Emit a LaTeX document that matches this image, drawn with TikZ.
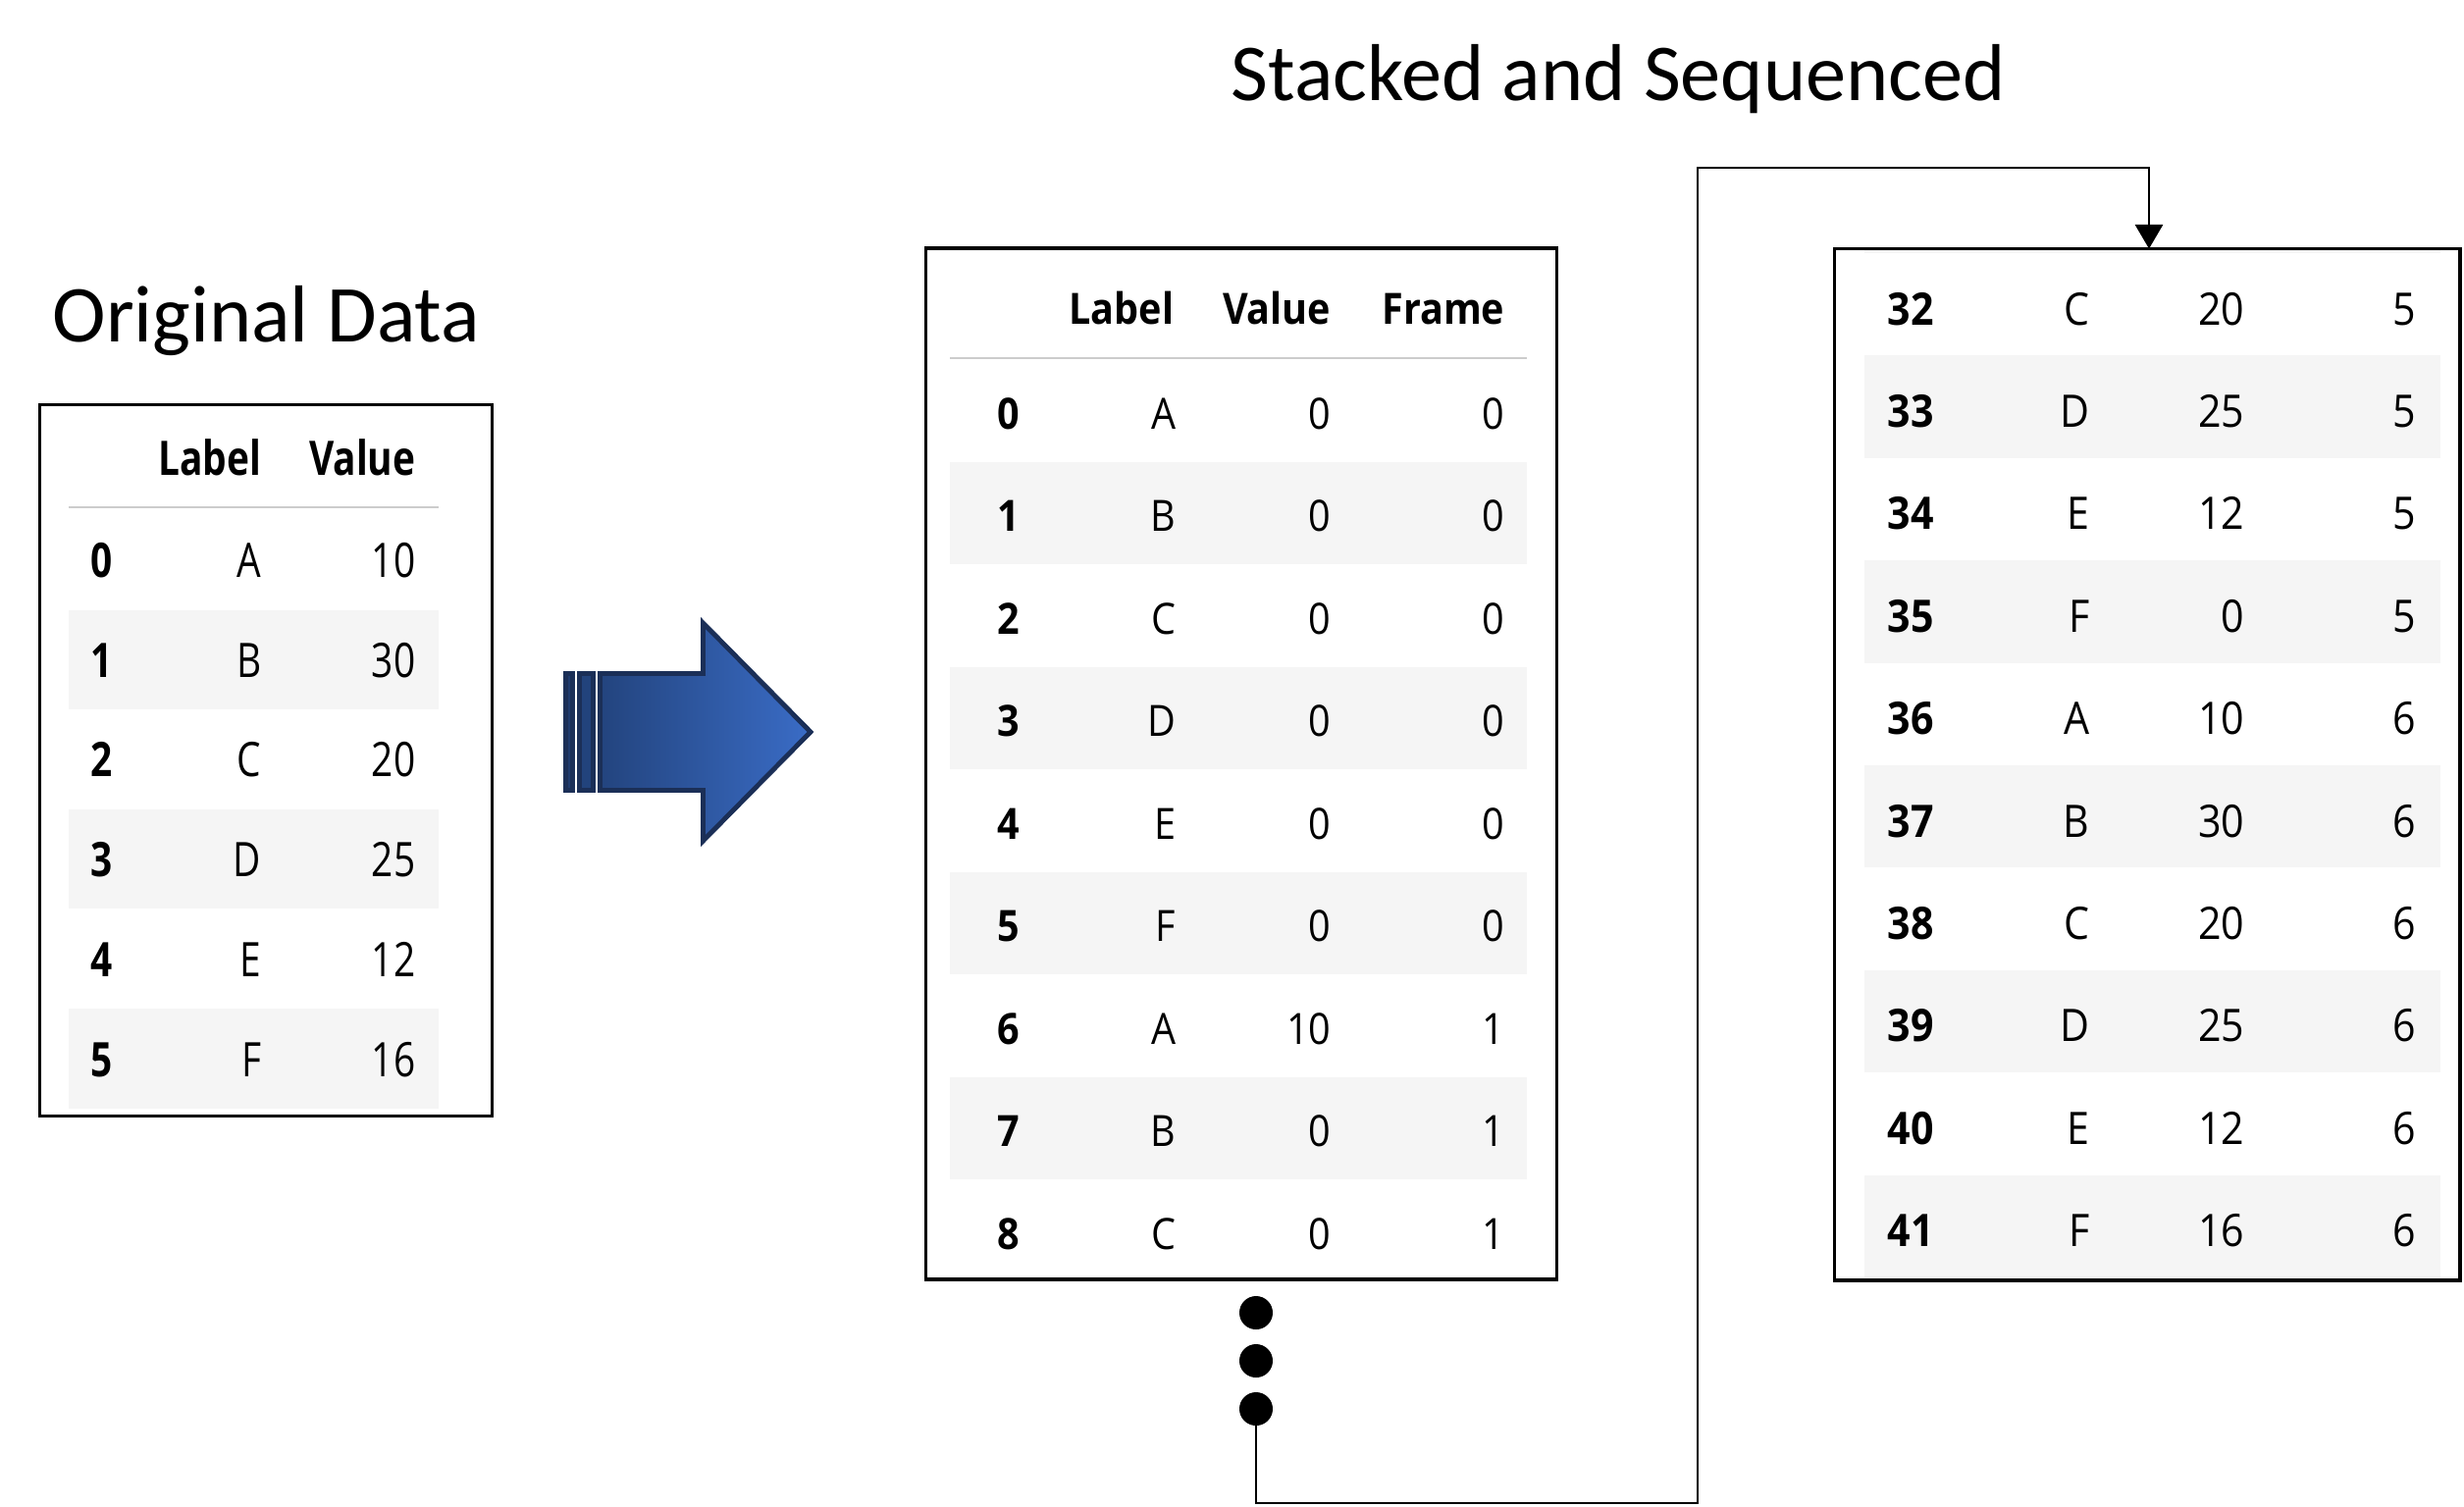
\documentclass[tikz,border=0pt]{standalone}
\usepackage{fontspec}
\setmainfont{Carlito}
\newfontfamily\tabfontL[FakeStretch=0.8]{Open Sans}
\newfontfamily\tabfontM[FakeStretch=0.9]{Open Sans}
\usetikzlibrary{arrows.meta}
\definecolor{rowshade}{HTML}{F5F5F5}
\definecolor{hdrline}{HTML}{CCCCCC}
\definecolor{navyedge}{HTML}{1B2F57}
\definecolor{arrowL}{HTML}{23447E}
\definecolor{arrowR}{HTML}{3A6CC6}
\definecolor{barA}{HTML}{1F3B6E}
\definecolor{barB}{HTML}{22437C}
\tikzset{
  titletext/.style={inner sep=0pt, anchor=base west, font=\fontsize{23.4}{28}\selectfont},
  lcell/.style={inner sep=0pt, font=\tabfontL\fontsize{13.8}{16}\selectfont},
  mcell/.style={inner sep=0pt, font=\tabfontM\fontsize{12.5}{15}\selectfont},
  rcell/.style={inner sep=0pt, font=\tabfontM\fontsize{13}{15}\selectfont},
  tablebox/.style={draw=black, line width=1pt, fill=none},
  shaderow/.style={fill=rowshade, draw=none},
  headrule/.style={draw=hdrline, line width=0.65pt},
  connector/.style={draw=black, line width=0.75pt},
  dotmark/.style={circle, fill=black, inner sep=0pt, minimum size=0.34cm},
  bigarrow/.style={draw=navyedge, line width=1.4pt, line join=miter},
}
\begin{document}
\begin{tikzpicture}[x=0.01cm, y=-0.01cm]
\useasboundingbox (0,0) rectangle (2511,1535);

% titles
\node[titletext] (t1) at (1254,102) {Stacked and Sequenced};
\node[titletext] (t2) at (53,348) {Original Data};

% ---------------- left table ----------------
\foreach \k in {1,3,5} {
  \fill[shaderow] (70,{520+101.6*\k}) rectangle (447,{520+101.6*(\k+1)});
}
\draw[headrule] (70,517) -- (447,517);
\node[lcell, anchor=base east] (L-hl) at (267,484) {\bfseries Label};
\node[lcell, anchor=base east] (L-hv) at (424,484) {\bfseries Value};
\foreach \i/\l/\v [count=\k from 0] in {0/A/10,1/B/30,2/C/20,3/D/25,4/E/12,5/F/16} {
  \pgfmathsetmacro\yb{588.5+101.7*\k}
  \node[lcell, anchor=base west] (L-i\k) at (92,\yb) {\bfseries \i};
  \node[lcell, anchor=base east] (L-l\k) at (267,\yb) {\l};
  \node[lcell, anchor=base east] (L-v\k) at (424,\yb) {\v};
}
\draw[tablebox] (40.5,412.5) rectangle (501.5,1137.5);

% ---------------- arrow ----------------
\filldraw[bigarrow, fill=barA] (576.5,686.5) rectangle (583.5,805.5);
\filldraw[bigarrow, fill=barB] (590.5,686.5) rectangle (604.5,805.5);
\shadedraw[bigarrow, left color=arrowL, right color=arrowR]
  (611.5,686.5) -- (716.5,686.5) -- (716.5,635) -- (826,746) -- (716.5,857)
  -- (716.5,805.5) -- (611.5,805.5) -- cycle;

% ---------------- middle table ----------------
\foreach \k in {1,3,5,7} {
  \fill[shaderow] (968,{366+104.5*\k}) rectangle (1556,{366+104.5*(\k+1)});
}
\draw[headrule] (968,365) -- (1556,365);
\node[mcell, anchor=base east] (M-hl) at (1197,330) {\bfseries Label};
\node[mcell, anchor=base east] (M-hv) at (1357,330) {\bfseries Value};
\node[mcell, anchor=base east] (M-hf) at (1534,330) {\bfseries Frame};
\foreach \i/\l/\v/\f [count=\k from 0] in {0/A/0/0,1/B/0/0,2/C/0/0,3/D/0/0,4/E/0/0,5/F/0/0,6/A/10/1,7/B/0/1,8/C/0/1} {
  \pgfmathsetmacro\yb{437+104.5*\k}
  \node[mcell, anchor=base west] (M-i\k) at (1016,\yb) {\bfseries \i};
  \node[mcell, anchor=base east] (M-l\k) at (1199,\yb) {\l};
  \node[mcell, anchor=base east] (M-v\k) at (1357,\yb) {\v};
  \node[mcell, anchor=base east] (M-f\k) at (1534,\yb) {\f};
}
\draw[tablebox] (943.5,253) rectangle (1586.5,1304);

% dots
\node[dotmark] (dot1) at (1280,1338) {};
\node[dotmark] (dot2) at (1280,1387) {};
\node[dotmark] (dot3) at (1280,1436) {};

% ---------------- right table ----------------
\fill[shaderow] (1900,253) rectangle (2487,258);
\foreach \k in {1,3,5,7,9} {
  \fill[shaderow] (1900,{258+104.4*\k}) rectangle (2487,{258+104.4*(\k+1)});
}
\foreach \i/\l/\v/\f [count=\k from 0] in {32/C/20/5,33/D/25/5,34/E/12/5,35/F/0/5,36/A/10/6,37/B/30/6,38/C/20/6,39/D/25/6,40/E/12/6,41/F/16/6} {
  \pgfmathsetmacro\yb{331+104.4*\k}
  \node[rcell, anchor=base west] (R-i\k) at (1923,\yb) {\bfseries \i};
  \node[rcell, anchor=base east] (R-l\k) at (2130,\yb) {\l};
  \node[rcell, anchor=base east] (R-v\k) at (2288,\yb) {\v};
  \node[rcell, anchor=base east] (R-f\k) at (2463,\yb) {\f};
}
\draw[tablebox] (1869.5,253.5) rectangle (2507,1305);
\coordinate (rtop) at (2190,253.5);

% connector
\coordinate (c1) at (1280,1532);
\coordinate (c2) at (1730,1532);
\coordinate (c3) at (1730,171);
\coordinate (c4) at (2190,171);
\draw[connector, -{Triangle[length=7pt,width=8pt]}] (dot3.center) -- (c1) -- (c2) -- (c3) -- (c4) -- (rtop);
\end{tikzpicture}
\end{document}
